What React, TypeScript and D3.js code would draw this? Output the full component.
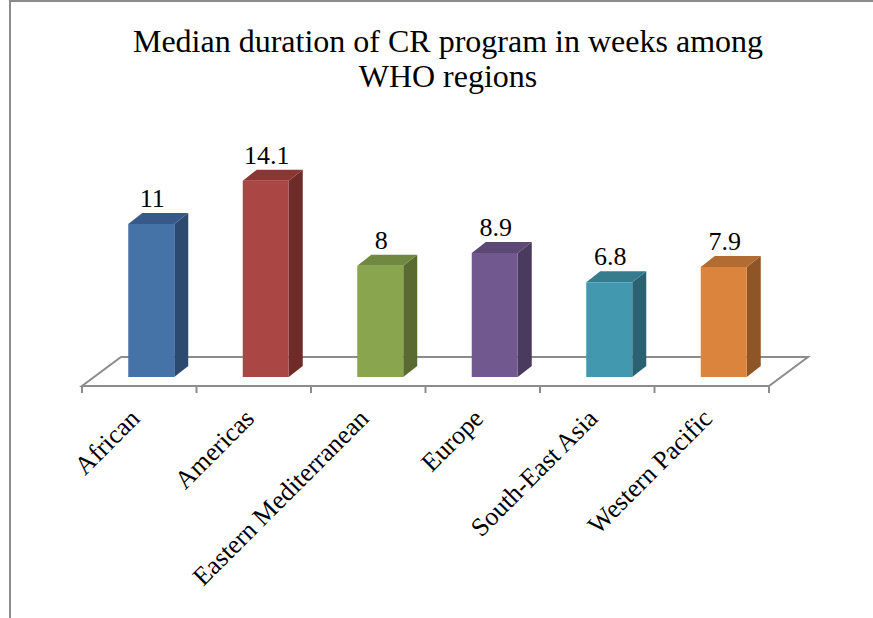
import React from "react";
import * as d3 from "d3";

const categories = ["African", "Americas", "Eastern Mediterranean", "Europe", "South-East Asia", "Western Pacific"];
const values = [11, 14.1, 8, 8.9, 6.8, 7.9];
const valueLabels = ["11", "14.1", "8", "8.9", "6.8", "7.9"];
const frontColors = ["#4572A7", "#AA4643", "#89A54E", "#71588F", "#4198AF", "#DB843D"];
const sideColors = ["#2C4A70", "#6E2B29", "#5A6B32", "#4A3A5E", "#2A6272", "#8E5527"];
const topColors = ["#37598A", "#8A3734", "#708840", "#5C4875", "#357C8E", "#B26B31"];
const titleLines = ["Median duration of CR program in weeks among", "WHO regions"];

export default function App() {
  const W = 873, H = 618;
  const x0 = 82, x1 = 769, floorY = 386;
  const fdx = 39, fdy = -29; // floor depth
  const bdx0 = 12, bdy0 = -9; // bar front plane offset
  const bdx = 14, bdy = -11; // bar depth
  const barW = 46;
  const serif = "'Liberation Serif', 'Times New Roman', serif";
  const x = d3.scaleBand<string>().domain(categories).range([x0, x1]);
  const y = d3.scaleLinear().domain([0, 15]).range([floorY + bdy0, floorY + bdy0 - 15 * 13.92]);

  const floor = d3.path();
  floor.moveTo(x0, floorY);
  floor.lineTo(x1, floorY);
  floor.lineTo(x1 + fdx, floorY + fdy);
  floor.lineTo(x0 + fdx, floorY + fdy);
  floor.closePath();

  const ticks = [...categories.map((c) => x(c)!), x1];

  return (
    <svg width={W} height={H} style={{ position: "absolute", left: 0, top: 0 }}>
      <rect x={0} y={0} width={W} height={H} fill="#fff" />
      <line x1={9} y1={1} x2={W} y2={1} stroke="#8c8c8c" strokeWidth={2} />
      <line x1={10} y1={0} x2={10} y2={H} stroke="#8c8c8c" strokeWidth={2} />
      <g fontFamily={serif} fill="#000">
        {titleLines.map((t, i) => (
          <text key={i} x={448} y={52 + i * 35} textAnchor="middle" fontSize={32}>
            {t}
          </text>
        ))}
      </g>
      <path d={floor.toString()} fill="none" stroke="#8c8c8c" strokeWidth={2} />
      {ticks.map((t, i) => (
        <line key={i} x1={t} y1={floorY} x2={t} y2={floorY + 7} stroke="#8c8c8c" strokeWidth={2} />
      ))}
      {categories.map((c, i) => {
        const cx = x(c)! + x.bandwidth() / 2 + bdx0;
        const l = cx - barW / 2, r = cx + barW / 2;
        const b = y(0), t = y(values[i]);
        const front = `M${l},${b}L${r},${b}L${r},${t}L${l},${t}Z`;
        const side = `M${r},${b}L${r + bdx},${b + bdy}L${r + bdx},${t + bdy}L${r},${t}Z`;
        const top = `M${l},${t}L${r},${t}L${r + bdx},${t + bdy}L${l + bdx},${t + bdy}Z`;
        return (
          <g key={c}>
            <path d={side} fill={sideColors[i]} />
            <path d={top} fill={topColors[i]} />
            <path d={front} fill={frontColors[i]} />
            <text x={cx + 1} y={t + bdy - 6} textAnchor="middle" fontSize={26} fontFamily={serif}>
              {valueLabels[i]}
            </text>
          </g>
        );
      })}
      {categories.map((c) => {
        const cx = x(c)! + x.bandwidth() / 2;
        return (
          <text
            key={c}
            transform={`translate(${cx + 2},${floorY + 34}) rotate(-45)`}
            textAnchor="end"
            fontSize={26}
            fontFamily={serif}
          >
            {c}
          </text>
        );
      })}
    </svg>
  );
}
